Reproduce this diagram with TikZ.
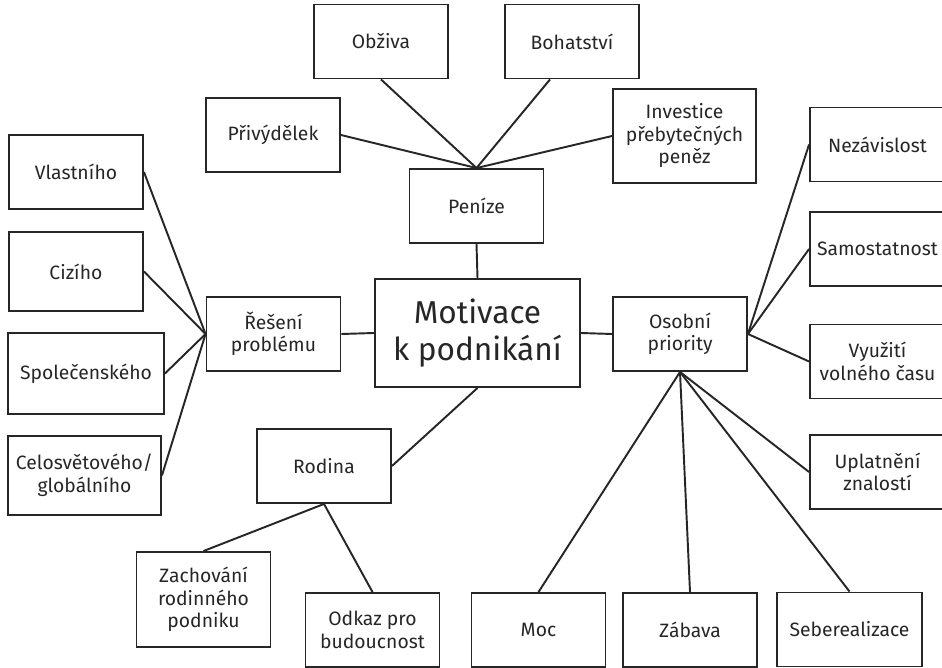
\documentclass[tikz,border=0pt]{standalone}
\usepackage{fontspec}
\setmainfont{Fira Sans}
\begin{document}
\begin{tikzpicture}[x=0.02cm, y=-0.02cm,
        box/.style={draw=black!85, line width=1.1pt, minimum width=2.68cm, minimum height=1.48cm,
            align=center, inner sep=1pt, text=black!85, font=\fontsize{11}{12.8}\selectfont},
        wire/.style={draw=black!85, line width=1.1pt}]
        \useasboundingbox (0,0) rectangle (942,668);

        % centre
        \node[box, minimum width=4.1cm, minimum height=2.16cm, font=\fontsize{18}{21.5}\selectfont] (motivace) at (477.5,333) {Motivace\\k podnikání};
        \node[box] (penize) at (476.5,206) {Peníze};
        \node[box] (reseni) at (273.5,334) {Řešení\\problému};
        \node[box] (osobni) at (680,334) {Osobní\\priority};
        \node[box] (rodina) at (324,466) {Rodina};

        % penize
        \node[box] (obziva) at (381,41.5) {Obživa};
        \node[box] (bohatstvi) at (572,41.5) {Bohatství};
        \node[box] (privydelek) at (273,135) {Přivýdělek};
        \node[box, minimum width=2.86cm, minimum height=1.88cm] (investice) at (684.5,136) {Investice\\přebytečných\\peněz};
        \coordinate (bohatstvi-foot) at ([xshift=-0.44cm]bohatstvi.south);

        % reseni problemu
        \node[box] (vlastniho) at (76,172) {Vlastního};
        \node[box, minimum height=1.58cm] (ciziho) at (76,271.5) {Cizího};
        \node[box, minimum width=3.12cm, minimum height=1.62cm] (spolecenskeho) at (86,373.5) {Společenského};
        \node[box, minimum width=3.06cm, minimum height=1.58cm] (celosvetoveho) at (84.5,475.5) {Celosvětového/\\globálního};

        % osobni priority
        \node[box, minimum width=2.7cm] (nezavislost) at (877.5,144.5) {Nezávislost};
        \node[box, minimum width=2.7cm] (samostatnost) at (877.5,249) {Samostatnost};
        \node[box, minimum width=2.7cm] (vyuziti) at (877.5,361.5) {Využití\\volného času};
        \node[box, minimum width=2.7cm] (uplatneni) at (877.5,472) {Uplatnění\\znalostí};
        \node[box] (moc) at (538.5,630) {Moc};
        \node[box] (zabava) at (690,630) {Zábava};
        \node[box, minimum width=2.9cm] (seberealizace) at (849.5,629.5) {Seberealizace};

        % rodina
        \node[box, minimum height=1.9cm] (zachovani) at (203.5,599.5) {Zachování\\rodinného\\podniku};
        \node[box] (odkaz) at (372.5,630) {Odkaz pro\\budoucnost};

        \foreach \from / \to in {penize.south/motivace.north, reseni.east/motivace.west,
                motivace.east/osobni.west, motivace.south/rodina.east}
            \path[wire] (\from) -- (\to);

        \foreach \to in {obziva.south, bohatstvi-foot, privydelek.east, investice.west}
            \path[wire] (penize.north) -- (\to);

        \foreach \to in {vlastniho, ciziho, spolecenskeho, celosvetoveho}
            \path[wire] (reseni.west) -- (\to.east);

        \foreach \to in {nezavislost, samostatnost, vyuziti}
            \path[wire] (osobni.east) -- (\to.west);

        \foreach \to in {uplatneni.west, moc.north, zabava.north, seberealizace.north}
            \path[wire] (osobni.south) -- (\to);

        \foreach \to in {zachovani, odkaz}
            \path[wire] (rodina.south) -- (\to.north);
    \end{tikzpicture}
\end{document}
